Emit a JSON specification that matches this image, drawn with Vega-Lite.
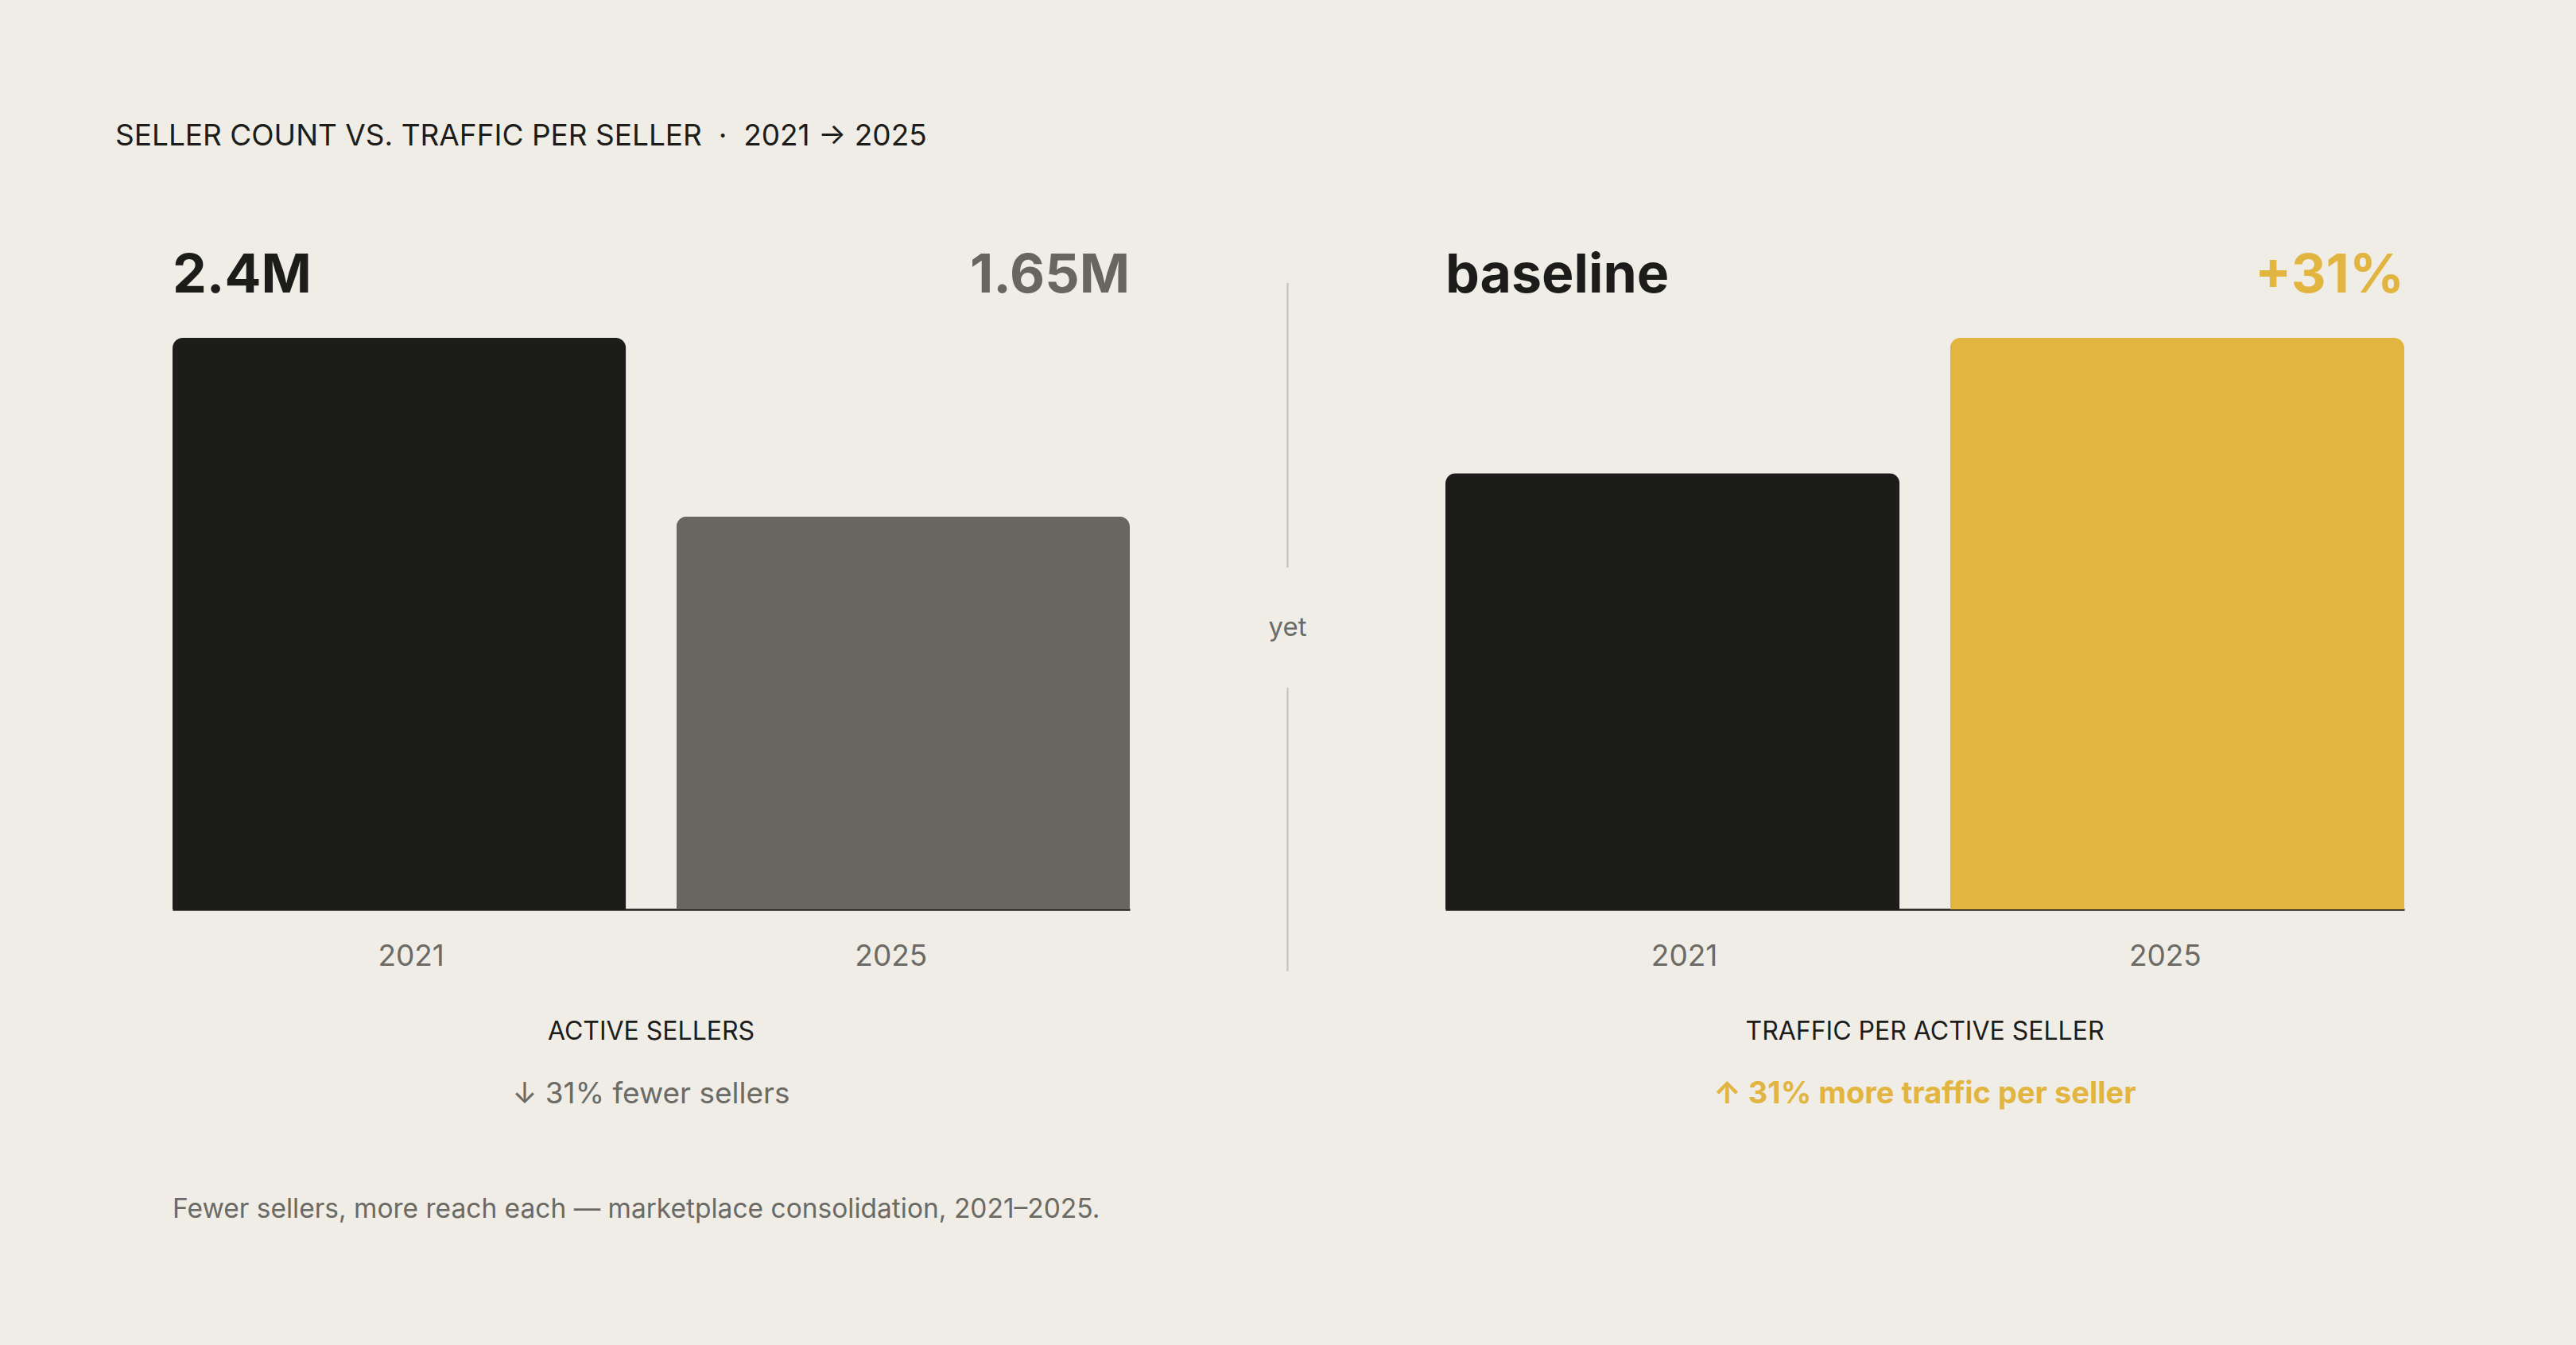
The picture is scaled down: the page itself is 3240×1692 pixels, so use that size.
{
  "$schema": "https://vega.github.io/schema/vega-lite/v6.json",
  "background": "#f0ede6",
  "padding": {"left": 145, "top": 153, "right": 217, "bottom": 153},
  "config": {
    "font": "Inter",
    "view": {"stroke": null},
    "axis": {"grid": false},
    "axisX": {
      "ticks": false,
      "tickSize": 0,
      "labelAngle": 0,
      "labelFontSize": 37,
      "labelColor": "#6b6a65",
      "labelPadding": 41,
      "labelOffset": {"condition": {"test": "datum.value === '2021'", "value": 15}, "value": -15},
      "domainColor": "#1c1c1a",
      "domainWidth": 2.5
    }
  },
  "datasets": {
    "bars": [
      {"panel": "sellers", "year": "2021", "value": 2.4, "label": "2.4M", "tone": "dark"},
      {"panel": "sellers", "year": "2025", "value": 1.65, "label": "1.65M", "tone": "muted"},
      {"panel": "traffic", "year": "2021", "value": 100, "label": "baseline", "tone": "dark"},
      {"panel": "traffic", "year": "2025", "value": 131, "label": "+31%", "tone": "accent"}
    ],
    "divider": [
      {"from": 1.096, "to": 0.598},
      {"from": 0.388, "to": -0.108}
    ],
    "connector": [
      {"at": 0.492, "word": "yet"}
    ]
  },
  "title": {
    "text": "SELLER COUNT VS. TRAFFIC PER SELLER \u00a0·\u00a0 2021 → 2025",
    "anchor": "start",
    "dx": -72,
    "fontSize": 37,
    "fontWeight": 400,
    "color": "#1c1c1a",
    "offset": 123
  },
  "vconcat": [
    {
      "title": {
        "text": "Fewer sellers, more reach each — marketplace consolidation, 2021–2025.",
        "orient": "bottom",
        "anchor": "start",
        "fontSize": 33.5,
        "fontWeight": 400,
        "color": "#6b6a65",
        "offset": 110
      },
      "bounds": "flush",
      "spacing": 178,
      "hconcat": [
        {
          "width": 1204,
          "height": 719,
          "data": {"name": "bars"},
          "transform": [{"filter": "datum.panel === 'sellers'"}],
          "title": {
            "text": "ACTIVE SELLERS",
            "subtitle": "↓ 31% fewer sellers",
            "orient": "bottom",
            "anchor": "middle",
            "offset": 62,
            "fontSize": 32,
            "fontWeight": 400,
            "color": "#1c1c1a",
            "subtitleFontSize": 37,
            "subtitleFontWeight": 400,
            "subtitleColor": "#6b6a65",
            "subtitlePadding": 44
          },
          "encoding": {
            "x": {"field": "year", "type": "nominal", "scale": {"paddingInner": 0.1, "paddingOuter": 0}, "axis": {"title": null}},
            "color": {"field": "tone", "type": "nominal", "scale": {"domain": ["dark", "muted", "accent"], "range": ["#1c1c1a", "#676661", "#e1b540"]}, "legend": null}
          },
          "layer": [
            {
              "mark": {"type": "bar", "cornerRadiusTopLeft": 13, "cornerRadiusTopRight": 13},
              "encoding": {
                "y": {"field": "value", "type": "quantitative", "scale": {"domain": [0, 2.4], "nice": false}, "axis": null}
              }
            },
            {
              "transform": [{"filter": "datum.year === '2021'"}],
              "mark": {"type": "text", "align": "left", "baseline": "alphabetic", "dy": -57, "fontSize": 68, "fontWeight": 700},
              "encoding": {
                "x": {"field": "year", "type": "nominal", "bandPosition": 0},
                "y": {"datum": 2.4, "type": "quantitative"},
                "text": {"field": "label"}
              }
            },
            {
              "transform": [{"filter": "datum.year === '2025'"}],
              "mark": {"type": "text", "align": "right", "baseline": "alphabetic", "dy": -57, "fontSize": 68, "fontWeight": 700},
              "encoding": {
                "x": {"field": "year", "type": "nominal", "bandPosition": 1},
                "y": {"datum": 2.4, "type": "quantitative"},
                "text": {"field": "label"}
              }
            }
          ]
        },
        {
          "width": 41,
          "height": 719,
          "layer": [
            {
              "data": {"name": "divider"},
              "mark": {"type": "rule", "color": "#c9c6bf", "strokeWidth": 2.5},
              "encoding": {
                "y": {"field": "from", "type": "quantitative", "scale": {"domain": [0, 1], "nice": false, "zero": false}, "axis": null},
                "y2": {"field": "to"}
              }
            },
            {
              "data": {"name": "connector"},
              "mark": {"type": "text", "fontSize": 33, "color": "#6b6a65", "baseline": "middle", "align": "center"},
              "encoding": {
                "y": {"field": "at", "type": "quantitative"},
                "text": {"field": "word"}
              }
            }
          ]
        },
        {
          "width": 1206,
          "height": 719,
          "data": {"name": "bars"},
          "transform": [{"filter": "datum.panel === 'traffic'"}],
          "title": {
            "text": "TRAFFIC PER ACTIVE SELLER",
            "subtitle": "↑ 31% more traffic per seller",
            "orient": "bottom",
            "anchor": "middle",
            "offset": 62,
            "fontSize": 32,
            "fontWeight": 400,
            "color": "#1c1c1a",
            "subtitleFontSize": 38,
            "subtitleFontWeight": 700,
            "subtitleColor": "#e1b540",
            "subtitlePadding": 43
          },
          "encoding": {
            "x": {"field": "year", "type": "nominal", "scale": {"paddingInner": 0.1, "paddingOuter": 0}, "axis": {"title": null}},
            "color": {"field": "tone", "type": "nominal", "legend": null}
          },
          "layer": [
            {
              "mark": {"type": "bar", "cornerRadiusTopLeft": 13, "cornerRadiusTopRight": 13},
              "encoding": {
                "y": {"field": "value", "type": "quantitative", "scale": {"domain": [0, 131], "nice": false}, "axis": null}
              }
            },
            {
              "transform": [{"filter": "datum.year === '2021'"}],
              "mark": {"type": "text", "align": "left", "baseline": "alphabetic", "dy": -57, "fontSize": 68, "fontWeight": 700},
              "encoding": {
                "x": {"field": "year", "type": "nominal", "bandPosition": 0},
                "y": {"datum": 131, "type": "quantitative"},
                "text": {"field": "label"}
              }
            },
            {
              "transform": [{"filter": "datum.year === '2025'"}],
              "mark": {"type": "text", "align": "right", "baseline": "alphabetic", "dy": -57, "fontSize": 68, "fontWeight": 700},
              "encoding": {
                "x": {"field": "year", "type": "nominal", "bandPosition": 1},
                "y": {"datum": 131, "type": "quantitative"},
                "text": {"field": "label"}
              }
            }
          ]
        }
      ]
    }
  ]
}
